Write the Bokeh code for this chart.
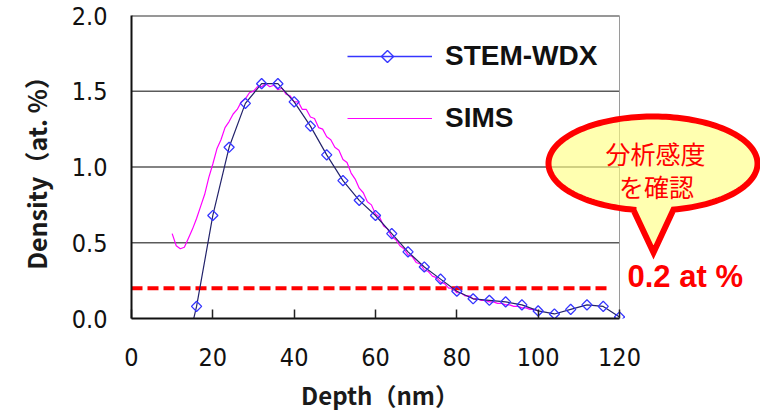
import numpy as np
from bokeh.plotting import figure
from bokeh.models import Range1d, Legend, LegendItem, Label, FixedTicker
from bokeh.embed import file_html
from bokeh.resources import INLINE

# ---------------- data ----------------
stem_depth = [12, 16, 20, 24, 28, 32, 36, 40, 44, 48, 52, 56, 60, 64, 68, 72,
              76, 80, 84, 88, 92, 96, 100, 104, 108, 112, 116, 120]
stem_density = [-0.38, 0.08, 0.68, 1.13, 1.42, 1.55, 1.55, 1.43, 1.27, 1.08, 0.91, 0.78,
                0.68, 0.56, 0.44, 0.34, 0.26, 0.18, 0.13, 0.12, 0.11, 0.09, 0.05,
                0.03, 0.06, 0.09, 0.08, 0.01]

sims_depth = [10, 11, 12, 13, 14, 15, 16, 17, 18, 19, 20, 21, 22, 23, 24, 25, 26, 27, 28, 29,
              30, 31, 32, 33, 34, 35, 36, 37, 38, 39, 40, 41, 42, 43, 44, 45, 46, 47, 48, 49,
              50, 51, 52, 53, 54, 55, 56, 57, 58, 59, 60, 61, 62, 63, 64, 65, 66, 67, 68, 69,
              70, 71, 72, 73, 74, 75, 76, 77, 78, 79, 80, 81, 82, 83, 84, 85, 86, 87, 88, 89,
              90, 91, 92, 93, 94, 95, 96, 97, 98, 99, 100]
sims_density = [0.56, 0.48, 0.46, 0.47, 0.53, 0.59, 0.66, 0.74, 0.82, 0.93,
                1.02, 1.12, 1.18, 1.26, 1.30, 1.35, 1.38, 1.43, 1.45, 1.49,
                1.50, 1.53, 1.53, 1.55, 1.53, 1.54, 1.51, 1.52, 1.48, 1.47,
                1.43, 1.43, 1.38, 1.38, 1.33, 1.32, 1.26, 1.25, 1.20, 1.18,
                1.13, 1.11, 1.05, 1.03, 0.96, 0.92, 0.86, 0.83, 0.77, 0.75,
                0.69, 0.67, 0.61, 0.59, 0.54, 0.52, 0.48, 0.46, 0.42, 0.41,
                0.37, 0.36, 0.32, 0.31, 0.28, 0.27, 0.24, 0.23, 0.20, 0.20,
                0.17, 0.17, 0.15, 0.15, 0.13, 0.13, 0.12, 0.12, 0.11, 0.11,
                0.10, 0.10, 0.09, 0.09, 0.08, 0.08, 0.07, 0.07, 0.06, 0.06, 0.05]

threshold = 0.2
threshold_span = [0, 118]

x_ticks = [0, 20, 40, 60, 80, 100, 120]
y_ticks = [0.0, 0.5, 1.0, 1.5, 2.0]
y_tick_labels = ["0.0", "0.5", "1.0", "1.5", "2.0"]
grid_levels = [0.5, 1.0, 1.5]
x_max = 120
y_max = 2.0

series_labels = ["STEM-WDX", "SIMS"]
x_label = "Depth（nm）"
y_label = "Density（at. %）"
callout_lines = ["分析感度", "を確認"]
threshold_label = "0.2 at %"

# ---------------- layout ----------------
W, H = 760, 418
BL, BR, BT, BB = 131, 0, 15, 100
frame_w = W - BL - BR
frame_h = H - BT - BB
PX_X = 488 / x_max                     # px per nm
x_end = frame_w / PX_X
PX_Y = frame_h / y_max

FL, FB = BL, H - BB                    # frame left / bottom in page px

TICK_FONT = "DejaVu Sans Condensed, Liberation Sans"


def to_x(px):
    return (px - FL) / PX_X


def to_y(py):
    return (FB - py) / PX_Y


p = figure(width=W, height=H, output_backend="svg", toolbar_location=None,
           x_range=Range1d(0, x_end), y_range=Range1d(0, y_max),
           min_border_left=BL, min_border_right=BR, min_border_top=BT,
           min_border_bottom=BB)
p.outline_line_color = None
p.xgrid.visible = False
p.ygrid.visible = False
p.background_fill_color = "white"
p.border_fill_color = "white"

# grid lines restricted to the data area
p.segment(x0=[0] * len(grid_levels), x1=[x_max] * len(grid_levels),
          y0=grid_levels, y1=grid_levels, line_color="#5a5a5a", line_width=1.5)
p.segment(x0=[0], x1=[x_max], y0=[y_max], y1=[y_max], line_color="#303030", line_width=2)
p.segment(x0=[x_max], x1=[x_max], y0=[0], y1=[y_max], line_color="#9a9a9a", line_width=1)

# threshold
p.line(x=threshold_span, y=[threshold, threshold], line_color="#ff0000", line_width=4,
       line_dash="11 5")

# series
sims_r = p.line(x=sims_depth, y=sims_density, line_color="#ff00ff", line_width=1.2)
p.line(x=stem_depth, y=stem_density, line_color="#23236b", line_width=1.2)
stem_sc = p.scatter(x=stem_depth, y=stem_density, marker="square", size=7.2,
                    angle=np.pi / 4, line_color="#3535ff", fill_color=None, line_width=1.3)
leg_line = p.line(x=[np.nan], y=[np.nan], line_color="#3535ff", line_width=1.5)

# axes
xa = p.xaxis[0]
xa.bounds = (0, x_max)
xa.ticker = FixedTicker(ticks=x_ticks)
xa.major_tick_in = 9
xa.major_tick_out = 0
xa.minor_tick_in = 0
xa.minor_tick_out = 0
xa.major_tick_line_width = 1.5
xa.major_tick_line_color = "#222222"
xa.axis_line_width = 2
xa.axis_line_color = "#111111"
xa.major_label_text_font = TICK_FONT
xa.major_label_text_font_size = "25px"
xa.major_label_text_color = "#111111"
xa.major_label_standoff = 29
# the frame extends into the right margin; ideographic spaces re-centre the title
# under the 0-120 span
xa.axis_label = x_label + "\u3000" * 6
xa.axis_label_text_font = "Noto Sans CJK JP"
xa.axis_label_text_font_style = "bold"
xa.axis_label_text_font_size = "24px"
xa.axis_label_text_color = "#1a1a1a"
xa.axis_label_standoff = 8

ya = p.yaxis[0]
ya.bounds = (0, y_max)
ya.ticker = FixedTicker(ticks=y_ticks)
ya.major_label_overrides = {t: l for t, l in zip(y_ticks, y_tick_labels)}
ya.major_tick_in = 0
ya.major_tick_out = 0
ya.minor_tick_in = 0
ya.minor_tick_out = 0
ya.axis_line_width = 2
ya.axis_line_color = "#111111"
ya.major_label_text_font = TICK_FONT
ya.major_label_text_font_size = "25px"
ya.major_label_text_color = "#111111"
ya.major_label_standoff = 24
ya.axis_label = y_label
ya.axis_label_text_font = "Noto Sans CJK JP"
ya.axis_label_text_font_style = "bold"
ya.axis_label_text_font_size = "25px"
ya.axis_label_text_color = "#1a1a1a"
ya.axis_label_standoff = 15

# legend
legend = Legend(items=[LegendItem(label=series_labels[0], renderers=[leg_line]),
                       LegendItem(label=series_labels[1], renderers=[sims_r])],
                location=(347 - FL, FB - 134), orientation="vertical",
                padding=0, margin=0, spacing=30, glyph_width=85, glyph_height=22,
                label_height=30, label_standoff=13,
                border_line_color=None, background_fill_alpha=0,
                label_text_font="Liberation Sans", label_text_font_style="bold",
                label_text_font_size="28px", label_text_color="#111111")
p.add_layout(legend)
# diamond marker of the STEM-WDX legend entry
p.scatter(x=[to_x(387)], y=[to_y(56)], marker="square", size=8.5, angle=np.pi / 4,
          line_color="#3535ff", fill_color="white", line_width=1.4)

# callout bubble
cx, cy, a, b = 652.5, 163.0, 104.5, 47.0
base_l, base_r, tip = (633.0, 209.5), (673.0, 209.5), (653.0, 252.0)
th_l = np.arccos((base_l[0] - cx) / a)
th_r = np.arccos((base_r[0] - cx) / a)
th = np.linspace(th_l, th_r + 2 * np.pi, 160)
bx = list(cx + a * np.cos(th)) + [tip[0], base_l[0]]
by = list(cy + b * np.sin(th)) + [tip[1], base_l[1]]
p.patch(x=[to_x(v) for v in bx], y=[to_y(v) for v in by],
        fill_color="#ffff80", fill_alpha=0.62, line_color="#ff0000", line_width=6,
        line_join="miter")

p.add_layout(Label(x=to_x(655), y=to_y(152), text=callout_lines[0], text_align="center",
                   text_baseline="middle", text_font="Noto Sans CJK JP",
                   text_font_size="25px", text_color="#ff0000"))
p.add_layout(Label(x=to_x(656), y=to_y(185), text=callout_lines[1], text_align="center",
                   text_baseline="middle", text_font="Noto Sans CJK JP",
                   text_font_size="25px", text_color="#ff0000"))
p.add_layout(Label(x=to_x(627), y=to_y(276), text=threshold_label, text_align="left",
                   text_baseline="middle", text_font="Liberation Sans",
                   text_font_style="bold", text_font_size="31px", text_color="#ff0000"))

open("out.html", "w").write(file_html(p, INLINE))
